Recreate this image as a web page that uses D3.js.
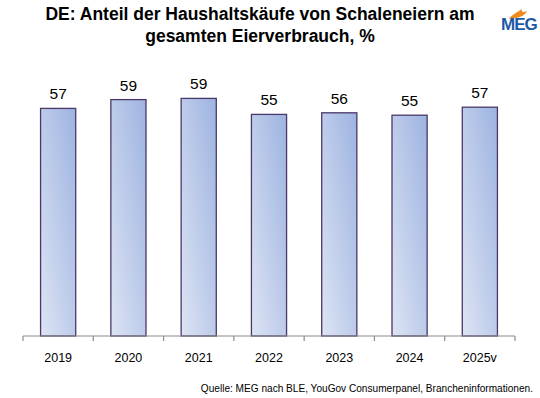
<!DOCTYPE html>
<html>
<head>
<meta charset="utf-8">
<script src="https://cdn.jsdelivr.net/npm/d3@7"></script>
<style>
  body { margin: 0; background: #fff; }
  svg { display: block; font-family: Arial, "Liberation Sans", sans-serif; }
</style>
</head>
<body>
<svg id="chart"></svg>
<script>
// data
const years = ["2019", "2020", "2021", "2022", "2023", "2024", "2025v"];
const shares = [56.9, 59.1, 59.4, 55.4, 55.8, 55.2, 57.2];
const titleLines = ["DE: Anteil der Haushaltskäufe von Schaleneiern am", "gesamten Eierverbrauch, %"];
const sourceNote = "Quelle: MEG nach BLE, YouGov Consumerpanel, Brancheninformationen.";

const W = 540, H = 398;
const margin = { top: 56, right: 25, bottom: 62, left: 23 };
const width = W - margin.left - margin.right;
const height = H - margin.top - margin.bottom;

const svg = d3.select("#chart").attr("width", W).attr("height", H);

// bar gradient: light lower-left to darker blue upper-right
const defs = svg.append("defs");
const grad = defs.append("linearGradient")
  .attr("id", "barFill")
  .attr("x1", "0").attr("y1", "1").attr("x2", "1").attr("y2", "0");
grad.append("stop").attr("offset", "0%").attr("stop-color", "#dde4f4");
grad.append("stop").attr("offset", "100%").attr("stop-color", "#9db3e0");

// title
svg.append("g").selectAll("text")
  .data(titleLines)
  .join("text")
  .attr("x", 260)
  .attr("y", (d, i) => 20 + i * 22)
  .attr("text-anchor", "middle")
  .style("font-size", "17.5px")
  .style("font-weight", "bold")
  .attr("fill", "#000")
  .text(d => d);

// MEG logo
const logo = svg.append("g").attr("transform", "translate(501,30)");
logo.append("path")
  .attr("d", "M8,-11 C11,-16 16,-17 21,-21 C20,-18 22,-17 26,-19 C24,-15 20,-13 15,-12 C12,-12 10,-11.5 8,-11 Z")
  .attr("fill", "#f08a1c");
logo.append("text")
  .attr("x", 0).attr("y", 0)
  .style("font-size", "17px")
  .style("font-weight", "bold")
  .style("letter-spacing", "-1px")
  .attr("fill", "#1d5aa6")
  .text("MEG");

const g = svg.append("g")
  .attr("transform", "translate(" + margin.left + "," + margin.top + ")");

const x = d3.scaleBand().domain(years).range([0, width]).paddingInner(0.5).paddingOuter(0.25);
const y = d3.scaleLinear().domain([0, 70]).range([height, 0]);

// bars
g.selectAll("rect.bar")
  .data(shares)
  .join("rect")
  .attr("class", "bar")
  .attr("x", (d, i) => x(years[i]))
  .attr("y", d => y(d))
  .attr("width", x.bandwidth())
  .attr("height", d => height - y(d))
  .attr("fill", "url(#barFill)")
  .attr("stroke", "#4a3868")
  .attr("stroke-width", 1.3);

// value labels
g.selectAll("text.val")
  .data(shares)
  .join("text")
  .attr("class", "val")
  .attr("x", (d, i) => x(years[i]) + x.bandwidth() / 2)
  .attr("y", d => y(d) - 9)
  .attr("text-anchor", "middle")
  .style("font-size", "15.5px")
  .attr("fill", "#000")
  .text(d => Math.round(d));

// x axis with ticks between categories
const axis = g.append("g").attr("transform", "translate(0," + height + ")");
axis.append("line")
  .attr("x1", 0).attr("x2", width)
  .attr("stroke", "#8c8c8c").attr("stroke-width", 1.2);
const step = x.step();
axis.selectAll("line.tick")
  .data(d3.range(years.length + 1))
  .join("line")
  .attr("class", "tick")
  .attr("x1", i => i * step).attr("x2", i => i * step)
  .attr("y1", 0).attr("y2", 5)
  .attr("stroke", "#8c8c8c").attr("stroke-width", 1.2);
axis.selectAll("text")
  .data(years)
  .join("text")
  .attr("x", d => x(d) + x.bandwidth() / 2)
  .attr("y", 26)
  .attr("text-anchor", "middle")
  .style("font-size", "12.5px")
  .attr("fill", "#000")
  .text(d => d);

// source note
svg.append("text")
  .attr("x", 533)
  .attr("y", 392)
  .attr("text-anchor", "end")
  .style("font-size", "10.1px")
  .attr("fill", "#000")
  .text(sourceNote);
</script>
</body>
</html>
